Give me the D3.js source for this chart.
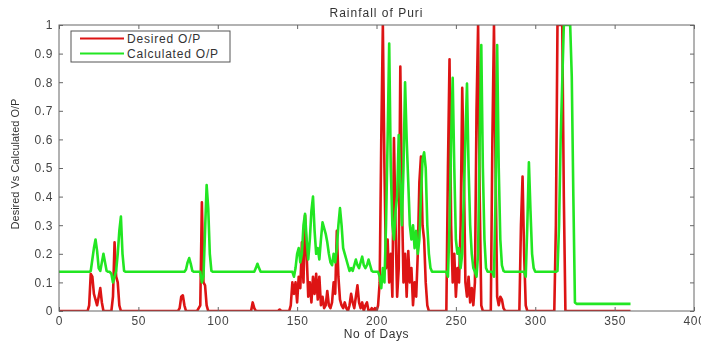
<!DOCTYPE html>
<html>
<head>
<meta charset="utf-8">
<script src="https://cdn.jsdelivr.net/npm/d3@7"></script>
<style>
  body { margin: 0; background: #fff; }
  svg { display: block; font-family: "Liberation Sans", Arial, sans-serif; filter: blur(0.35px); }
  .tick text { fill: #444; font-size: 12px; letter-spacing: 0.6px; }
  .tick line { stroke: #666; }
</style>
</head>
<body>
<div id="chart"></div>
<script>
// desired output (red), one value per day, day 0..360
const desired = [
  0,0,0,0,0,0,0,0,0,0,
  0,0,0,0,0,0,0,0,0,0.02,
  0.13,0.12,0.06,0.04,0.02,0.05,0.08,0.03,0,0,
  0,0,0,0,0.05,0.24,0.12,0.1,0.02,0,
  0,0,0,0,0,0,0,0,0,0,
  0,0,0,0,0,0,0,0,0,0,
  0,0,0,0,0,0,0,0,0,0,
  0,0,0,0,0,0,0.01,0.05,0.055,0.02,
  0,0,0,0,0,0,0,0,0.01,0.02,
  0.38,0.1,0.09,0.02,0,0,0,0,0,0,
  0,0,0,0,0,0,0,0,0,0,
  0,0,0,0,0,0,0,0,0,0,
  0,0,0.03,0.01,0,0,0,0,0,0,
  0,0,0,0,0,0,0,0,0,0.005,
  0,0,0,0,0,0,0.02,0.1,0.06,0.1,
  0.03,0.12,0.08,0.24,0.1,0.335,0.2,0.05,0.1,0.03,
  0.12,0.06,0.13,0.04,0.12,0.02,0.05,0.01,0.02,0.07,
  0.02,0.01,0.03,0.1,0.06,0.28,0.12,0.04,0.02,0.01,
  0.03,0.01,0,0.02,0.06,0.03,0.01,0.05,0.09,0.03,
  0.01,0.03,0,0.02,0.03,0,0,0.01,0,0.01,
  0,0.02,0.1,0.6,1.0,0.5,0.15,0.25,0.1,0.2,
  0.05,0.605,0.3,0.05,0.15,0.855,0.4,0.1,0.2,0.05,
  0.21,0.1,0.15,0.02,0.1,0.05,0.2,0.45,0.54,0.3,
  0.25,0.1,0.02,0,0,0,0,0,0,0,
  0,0,0,0,0,0.5,0.88,0.3,0.1,0.2,
  0.05,0.15,0.1,0.3,0.78,0.5,0.1,0.05,0.12,0.03,
  0.08,0.02,0.1,0.7,1.0,0.4,0.02,0,0,0,
  0,0,0,0.6,1.0,0.5,0.05,0.02,0.05,0.04,
  0.01,0,0,0,0,0,0,0,0,0,
  0,0.3,0.47,0.2,0.02,0,0,0,0,0,
  0,0,0,0,0,0,0,0,0,0,
  0,0,0,0.3,1.0,1.0,1.0,1.0,0.4,0,
  0,0,0,0,0,0,0,0,0,0,
  0,0,0,0,0,0,0,0,0,0,
  0,0,0,0,0,0,0,0,0,0,
  0,0,0,0,0,0,0,0,0,0,
  0
];

// calculated output (green), same days
const calculated = [
  0.137,0.137,0.137,0.137,0.137,0.137,0.137,0.137,0.137,0.137,
  0.137,0.137,0.137,0.137,0.137,0.137,0.137,0.137,0.137,0.137,
  0.14,0.18,0.22,0.25,0.21,0.15,0.14,0.17,0.2,0.17,
  0.14,0.137,0.137,0.13,0.1,0.12,0.14,0.2,0.28,0.33,
  0.2,0.14,0.137,0.137,0.137,0.137,0.137,0.137,0.137,0.137,
  0.137,0.137,0.137,0.137,0.137,0.137,0.137,0.137,0.137,0.137,
  0.137,0.137,0.137,0.137,0.137,0.137,0.137,0.137,0.137,0.137,
  0.137,0.137,0.137,0.137,0.137,0.137,0.137,0.137,0.137,0.137,
  0.145,0.17,0.185,0.165,0.14,0.137,0.137,0.137,0.137,0.137,
  0.1,0.12,0.28,0.44,0.36,0.2,0.14,0.137,0.137,0.137,
  0.137,0.137,0.137,0.137,0.137,0.137,0.137,0.137,0.137,0.137,
  0.137,0.137,0.137,0.137,0.137,0.137,0.137,0.137,0.137,0.137,
  0.137,0.137,0.137,0.137,0.15,0.165,0.15,0.137,0.137,0.137,
  0.137,0.137,0.137,0.137,0.137,0.137,0.137,0.137,0.137,0.137,
  0.137,0.137,0.137,0.137,0.137,0.137,0.137,0.137,0.12,0.15,
  0.2,0.22,0.17,0.2,0.3,0.34,0.25,0.18,0.25,0.35,
  0.4,0.28,0.2,0.22,0.18,0.25,0.31,0.29,0.27,0.24,
  0.2,0.17,0.16,0.2,0.17,0.22,0.3,0.36,0.3,0.22,
  0.2,0.18,0.16,0.14,0.15,0.14,0.16,0.18,0.16,0.15,
  0.17,0.19,0.16,0.15,0.16,0.18,0.16,0.14,0.137,0.137,
  0.137,0.137,0.12,0.08,0.15,0.1,0.3,0.6,0.935,0.5,
  0.3,0.25,0.35,0.4,0.615,0.45,0.3,0.5,0.8,0.6,
  0.45,0.3,0.25,0.3,0.22,0.28,0.2,0.25,0.4,0.53,
  0.555,0.5,0.3,0.2,0.15,0.137,0.137,0.137,0.137,0.137,
  0.137,0.137,0.137,0.137,0.137,0.12,0.3,0.6,0.815,0.5,
  0.25,0.2,0.22,0.15,0.2,0.4,0.6,0.795,0.5,0.3,
  0.2,0.15,0.137,0.12,0.2,0.6,0.93,0.5,0.25,0.15,
  0.137,0.137,0.137,0.137,0.12,0.4,0.93,0.5,0.25,0.16,
  0.14,0.137,0.137,0.137,0.137,0.137,0.137,0.137,0.137,0.137,
  0.137,0.137,0.137,0.137,0.12,0.3,0.52,0.35,0.2,0.15,
  0.137,0.137,0.137,0.137,0.137,0.137,0.137,0.137,0.137,0.137,
  0.137,0.137,0.137,0.137,0.14,0.3,0.6,0.8,1.0,1.0,
  1.0,1.0,1.0,0.82,0.4,0.03,0.025,0.025,0.025,0.025,
  0.025,0.025,0.025,0.025,0.025,0.025,0.025,0.025,0.025,0.025,
  0.025,0.025,0.025,0.025,0.025,0.025,0.025,0.025,0.025,0.025,
  0.025,0.025,0.025,0.025,0.025,0.025,0.025,0.025,0.025,0.025,
  0.025
];

const xTicks = [0, 50, 100, 150, 200, 250, 300, 350, 400];
const yTicks = [0, 0.1, 0.2, 0.3, 0.4, 0.5, 0.6, 0.7, 0.8, 0.9, 1];
const seriesNames = ["Desired O/P", "Calculated O/P"];
const seriesColors = ["#dd1414", "#22e622"];

const W = 701, H = 341;
const mLeft = 59, mRight = 694, mTop = 25, mBottom = 311;

const svg = d3.select("#chart").append("svg")
  .attr("width", W).attr("height", H);

const x = d3.scaleLinear().domain([0, 400]).range([mLeft, mRight]);
const y = d3.scaleLinear().domain([0, 1]).range([mBottom, mTop]);

svg.append("clipPath").attr("id", "plotclip")
  .append("rect").attr("x", mLeft).attr("y", mTop)
  .attr("width", mRight - mLeft).attr("height", mBottom - mTop);

// data lines
const line = d3.line().x((d, i) => x(i)).y(d => y(d));
const plot = svg.append("g").attr("clip-path", "url(#plotclip)");
[desired, calculated].forEach((s, k) => {
  plot.append("path")
    .datum(s)
    .attr("fill", "none")
    .attr("stroke", seriesColors[k])
    .attr("stroke-width", 2.6)
    .attr("stroke-linejoin", "round")
    .attr("d", line);
});

// axes, ticks inside (matlab box)
const fmtY = d => d === 0 || d === 1 ? String(d) : d3.format(".1f")(d);
svg.append("g").attr("transform", `translate(0,${mBottom})`)
  .call(d3.axisBottom(x).tickValues(xTicks).tickSize(-4).tickPadding(5))
  .call(g => g.select(".domain").remove());
svg.append("g").attr("transform", `translate(0,${mTop})`)
  .call(d3.axisTop(x).tickValues(xTicks).tickSize(-4).tickFormat(""))
  .call(g => g.select(".domain").remove());
svg.append("g").attr("transform", `translate(${mLeft},0)`)
  .call(d3.axisLeft(y).tickValues(yTicks).tickSize(-4).tickPadding(6).tickFormat(fmtY))
  .call(g => g.select(".domain").remove());
svg.append("g").attr("transform", `translate(${mRight},0)`)
  .call(d3.axisRight(y).tickValues(yTicks).tickSize(-4).tickFormat(""))
  .call(g => g.select(".domain").remove());

svg.append("rect")
  .attr("x", mLeft).attr("y", mTop)
  .attr("width", mRight - mLeft).attr("height", mBottom - mTop)
  .attr("fill", "none").attr("stroke", "#666");

// titles
svg.append("text")
  .attr("x", (mLeft + mRight) / 2).attr("y", 17)
  .attr("text-anchor", "middle")
  .attr("font-size", 12).attr("letter-spacing", 1).attr("fill", "#333")
  .text("Rainfall of Puri");
svg.append("text")
  .attr("x", (mLeft + mRight) / 2).attr("y", 338)
  .attr("text-anchor", "middle")
  .attr("font-size", 12).attr("letter-spacing", 0.6).attr("fill", "#333")
  .text("No of Days");
svg.append("text")
  .attr("transform", `translate(19,${(mTop + mBottom) / 2 - 4}) rotate(-90)`)
  .attr("text-anchor", "middle")
  .attr("font-size", 11).attr("fill", "#333")
  .text("Desired Vs Calculated O/P");

// legend
const lg = svg.append("g");
lg.append("rect")
  .attr("x", 71).attr("y", 31).attr("width", 159).attr("height", 31)
  .attr("fill", "#fff").attr("stroke", "#555");
seriesNames.forEach((name, k) => {
  const ly = 38.5 + k * 15;
  lg.append("line")
    .attr("x1", 80).attr("x2", 124).attr("y1", ly).attr("y2", ly)
    .attr("stroke", seriesColors[k]).attr("stroke-width", 2);
  lg.append("text")
    .attr("x", 127).attr("y", ly + 4)
    .attr("font-size", 12).attr("letter-spacing", 0.8).attr("fill", "#333")
    .text(name);
});
</script>
</body>
</html>
